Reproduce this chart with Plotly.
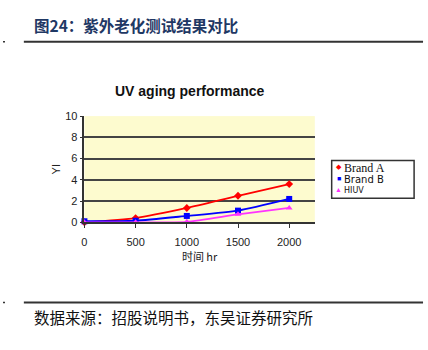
import plotly.graph_objects as go

hours = [0, 500, 1000, 1500, 2000]
brand_a = [0.0, 0.4, 1.35, 2.5, 3.6]
brand_b = [0.1, 0.15, 0.6, 1.1, 2.2]
hiuv = [0.0, 0.0, 0.05, 0.75, 1.35]
series_names = ["Brand A", "Brand B", "HIUV"]
y_ticks = [0, 2, 4, 6, 8, 10]
x_ticks = [0, 500, 1000, 1500, 2000]

W, H = 428, 350
def px(x):
    return x / W
def py(y):
    return 1 - y / H

fig = go.Figure()
styles = [("#ff0000", "diamond", 6, "◆"), ("#0000ff", "square", 6, "■"), ("#ff33ff", "triangle-up", 6, "▲")]
for name, vals, (col, sym, sz, _) in zip(series_names, [brand_a, brand_b, hiuv], styles):
    fig.add_trace(go.Scatter(
        x=hours, y=vals, name=name, mode="lines+markers",
        line=dict(color=col, width=1.8, shape="spline", smoothing=0.6),
        marker=dict(color=col, symbol=sym, size=sz),
        cliponaxis=False, showlegend=False,
    ))

fig.update_layout(
    width=W, height=H,
    margin=dict(l=0, r=0, t=0, b=0),
    paper_bgcolor="white",
    plot_bgcolor="#fdfbcf",
    showlegend=False,
    xaxis=dict(
        domain=[px(82), px(314)], range=[0, 2250],
        tickvals=x_ticks, ticktext=[str(v) for v in x_ticks],
        showgrid=False, zeroline=False,
        showline=True, linecolor="#333333", linewidth=1.5,
        ticks="outside", ticklen=4, tickcolor="#333333",
        ticklabelstandoff=5,
        tickfont=dict(family="Liberation Sans, Arial", size=11, color="#222222"),
        title=dict(text="时间 hr", font=dict(family="Noto Sans CJK SC", size=11, color="#222222"), standoff=2),
        anchor="y",
    ),
    yaxis=dict(
        domain=[py(224), py(114)], range=[0, 10],
        tickvals=y_ticks, ticktext=[str(v) for v in y_ticks],
        showgrid=True, gridcolor="#444444", gridwidth=1.5,
        zeroline=False,
        showline=True, linecolor="#333333", linewidth=1.5,
        ticks="outside", ticklen=3, tickcolor="#333333",
        tickfont=dict(family="Liberation Sans, Arial", size=11, color="#222222"),
        title=dict(text="YI", font=dict(family="Liberation Sans, Arial", size=11, color="#222222"), standoff=2),
        anchor="x",
    ),
)

# manual compact legend
fig.add_shape(type="rect", xref="paper", yref="paper", x0=px(331), x1=px(414),
              y0=py(199), y1=py(160), line=dict(color="#333333", width=1.5), fillcolor="white")
legend_fonts = [("Liberation Serif", 12), ("DejaVu Sans", 10), ("DejaVu Sans", 8)]
for i, (name, (col, _, _, glyph), (fam, fs)) in enumerate(zip(series_names, styles, legend_fonts)):
    yc = 166.5 + i * 12
    fig.add_annotation(text=glyph, xref="paper", yref="paper", x=px(338), y=py(yc),
                       xanchor="center", yanchor="middle", showarrow=False,
                       font=dict(size=7, color=col))
    fig.add_annotation(text=name, xref="paper", yref="paper", x=px(341), y=py(yc + 1),
                       xanchor="left", yanchor="middle", showarrow=False,
                       font=dict(family=fam, size=fs, color="#111111"))

# header & footer
fig.add_annotation(text="<b>图24：紫外老化测试结果对比</b>", xref="paper", yref="paper",
                   x=px(29), y=py(20), xanchor="left", yanchor="middle", showarrow=False,
                   font=dict(family="Noto Sans CJK SC", size=15.5, color="#1f3864"))
fig.add_annotation(text="<b>UV aging performance</b>", xref="paper", yref="paper",
                   x=px(188), y=py(88), xanchor="center", yanchor="middle", showarrow=False,
                   font=dict(family="Liberation Sans, Arial", size=14, color="#111111"))
fig.add_annotation(text="数据来源：招股说明书，东吴证券研究所", xref="paper", yref="paper",
                   x=px(29), y=py(322), xanchor="left", yanchor="middle", showarrow=False,
                   font=dict(family="Noto Sans CJK SC", size=15.5, color="#111111"))

for yline in (37, 307):
    fig.add_shape(type="line", xref="paper", yref="paper", x0=px(21), x1=px(423),
                  y0=py(yline), y1=py(yline), line=dict(color="#333333", width=2))
    fig.add_shape(type="line", xref="paper", yref="paper", x0=0, x1=px(2),
                  y0=py(yline), y1=py(yline), line=dict(color="#333333", width=1.5))

fig.write_html("out.html")
